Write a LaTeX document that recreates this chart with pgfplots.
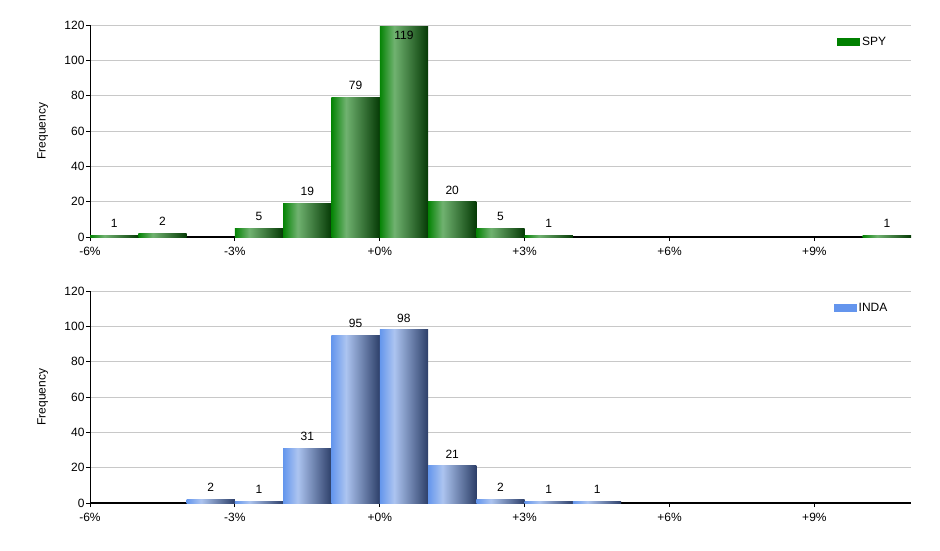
\documentclass[border=0pt]{standalone}
\usepackage{fontspec}
\setmainfont{Liberation Sans}
\usepackage{pgfplots}
\pgfplotsset{compat=1.18}
\definecolor{gA}{RGB}{5,132,5}
\definecolor{gB}{RGB}{112,178,112}
\definecolor{gC}{RGB}{5,58,5}
\definecolor{bA}{RGB}{100,150,237}
\definecolor{bB}{RGB}{172,196,240}
\definecolor{bC}{RGB}{45,63,105}
\definecolor{spygreen}{RGB}{0,128,0}
\definecolor{indablue}{RGB}{100,149,237}
\definecolor{gridgray}{RGB}{200,200,200}
\pgfdeclarehorizontalshading{greenbar}{100bp}{color(0bp)=(gA); color(25bp)=(gA); color(40bp)=(gB); color(75bp)=(gC); color(100bp)=(gC)}
\pgfdeclarehorizontalshading{bluebar}{100bp}{color(0bp)=(bA); color(25bp)=(bA); color(40bp)=(bB); color(75bp)=(bC); color(100bp)=(bC)}
\newcommand{\lblfont}{\fontsize{12}{14}\selectfont}
\pgfplotsset{
  hist/.style={
    width=821pt, height=212pt, scale only axis,
    xmin=-6, xmax=11, ymin=0, ymax=120,
    xtick={-6,-3,0,3,6,9},
    xticklabels={-6\%,-3\%,+0\%,+3\%,+6\%,+9\%},
    ytick={0,20,...,120},
    axis x line*=bottom, axis y line*=left,
    x axis line style={black, line width=1.5pt},
    y axis line style={black, line width=1pt},
    tick align=outside, major tick length=4pt,
    tick style={black, line width=0.8pt},
    ymajorgrids, grid style={gridgray, line width=1pt},
    tick label style={font=\lblfont},
    yticklabel style={xshift=2pt},
    xticklabel style={yshift=-3pt},
    /pgf/number format/assume math mode=true,
    every axis y label/.style={at={(axis description cs:-0.0575,0.5)}, rotate=90, anchor=center, font=\lblfont},
    ylabel={Frequency},
    legend style={draw=none, fill=none, font=\lblfont, anchor=west},
    legend cell align=left,
    legend image code/.code={\fill[##1, draw=none] (0pt,-4pt) rectangle (23pt,4pt);},
    clip=false,
  },
  hbar/.style={ybar, bar width=1, bar shift=0pt, draw=none, shading=#1, shading angle=0,
    nodes near coords, point meta=y,
    every node near coord/.append style={font=\lblfont, black, yshift=4pt}},
}
\newcommand{\hb}[3]{\addplot[hbar=#1] coordinates {(#2,#3)};}
\begin{document}
\begin{tikzpicture}
\useasboundingbox (0,0) rectangle (940pt,-550pt);
\begin{axis}[hist, at={(90pt,-237pt)}, anchor=south west,
  legend style={at={(rel axis cs:0.906,0.92)}}]
\addlegendimage{fill=spygreen, draw=none}
\addlegendentry{SPY}
\hb{greenbar}{-5.5}{1}
\hb{greenbar}{-4.5}{2}
\hb{greenbar}{-2.5}{5}
\hb{greenbar}{-1.5}{19}
\hb{greenbar}{-0.5}{79}
\addplot[hbar=greenbar, every node near coord/.append style={anchor=north, yshift=-5pt}] coordinates {(0.5,119)};
\hb{greenbar}{1.5}{20}
\hb{greenbar}{2.5}{5}
\hb{greenbar}{3.5}{1}
\hb{greenbar}{10.5}{1}
\end{axis}
\begin{axis}[hist, at={(90pt,-503pt)}, anchor=south west,
  legend style={at={(rel axis cs:0.902,0.92)}}]
\addlegendimage{fill=indablue, draw=none}
\addlegendentry{INDA}
\hb{bluebar}{-3.5}{2}
\hb{bluebar}{-2.5}{1}
\hb{bluebar}{-1.5}{31}
\hb{bluebar}{-0.5}{95}
\hb{bluebar}{0.5}{98}
\hb{bluebar}{1.5}{21}
\hb{bluebar}{2.5}{2}
\hb{bluebar}{3.5}{1}
\hb{bluebar}{4.5}{1}
\end{axis}
\end{tikzpicture}
\end{document}
